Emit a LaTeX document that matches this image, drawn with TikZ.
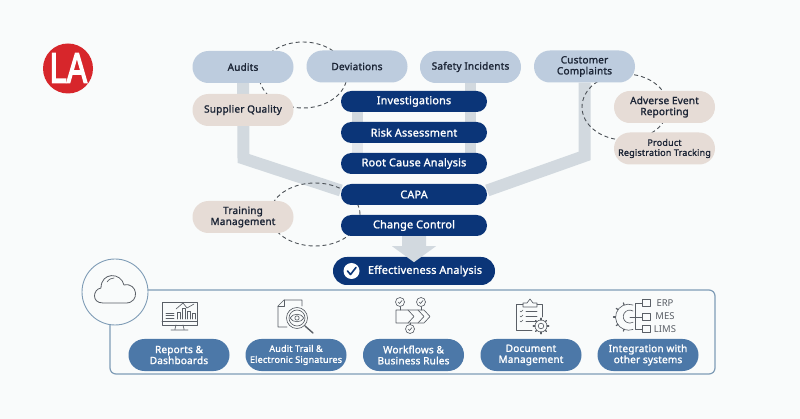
\documentclass[tikz,border=0pt]{standalone}
\usepackage{fontspec}
\setmainfont{Noto Sans}
\newfontfamily\heavyfont{Noto Sans}[FakeBold=1.6, LetterSpace=2]
\newfontfamily\logofont{Liberation Sans}[FakeBold=4]
\usetikzlibrary{backgrounds}

\definecolor{pagebg}{HTML}{F9FBFB}
\definecolor{navybox}{HTML}{0B3578}
\definecolor{steelbox}{HTML}{4C78A8}
\definecolor{paleblue}{HTML}{BDCCDE}
\definecolor{palesand}{HTML}{E6DCD6}
\definecolor{barfill}{HTML}{D2D9DF}
\definecolor{inkdark}{HTML}{1C2536}
\definecolor{iconink}{HTML}{5A5F66}
\definecolor{panelline}{HTML}{7F9CB6}
\definecolor{logored}{HTML}{D7262B}

\tikzset{
    pill/.style={rectangle, rounded corners=15.9pt, minimum width=101pt, minimum height=32pt,
        inner sep=0pt, align=center, text=inkdark,
        font=\heavyfont\fontsize{10}{11}\selectfont},
    source/.style={pill, fill=paleblue},
    extra/.style={pill, fill=palesand},
    stepbar/.style={rectangle, rounded corners=10.4pt, minimum width=146pt, minimum height=21pt,
        inner sep=0pt, fill=navybox, text=white, font=\heavyfont\fontsize{10.8}{12}\selectfont},
    feature/.style={pill, fill=steelbox, text=white},
    flowbar/.style={draw=barfill, line width=12pt, line join=miter},
    loopline/.style={draw=iconink!85!black, line width=0.9pt, dash pattern=on 4pt off 3pt},
    iconline/.style={draw=iconink, line width=0.65pt, line join=round, line cap=round},
}

\begin{document}
\begin{tikzpicture}[x=1pt, y=-1pt]
    \useasboundingbox (0,0) rectangle (800,419);

    % top row
    \node[source] (audits) at (243,67) {Audits};
    \node[source] (deviations) at (357,66.5) {Deviations};
    \node[source] (safety) at (470.5,67) {Safety Incidents};
    \node[source] (complaints) at (584.5,66.5) {Customer\\Complaints};

    % side boxes
    \node[extra] (supplier) at (243,110) {Supplier Quality};
    \node[extra] (adverse) at (664.5,107) {Adverse Event\\Reporting};
    \node[extra, font=\heavyfont\fontsize{9}{10}\selectfont] (product) at (664.5,148.5) {Product\\Registration Tracking};
    \node[extra] (training) at (243,217) {Training\\Management};

    % process stack
    \node[stepbar] (investigations) at (414,101.5) {Investigations};
    \node[stepbar] (risk) at (414,132.5) {Risk Assessment};
    \node[stepbar] (rootcause) at (414,163.5) {Root Cause Analysis};
    \node[stepbar] (capa) at (414,194.5) {CAPA};
    \node[stepbar] (change) at (414,225.5) {Change Control};
    \node[stepbar, minimum width=162pt, minimum height=28pt, rounded corners=13.9pt,
        font=\heavyfont\fontsize{10.8}{13}\selectfont] (effect) at (414,271) {\hspace*{22pt}Effectiveness Analysis};
    \node[circle, fill=white, minimum size=16pt, inner sep=0pt] (checkmark) at (351.5,271) {};
    \draw[navybox, line width=1.6pt, line cap=round, line join=round]
        (347.5,271) -- (350.5,274.5) -- (356,267.5);

    % big arrow
    \fill[barfill] ([xshift=-12pt]change.south) -- ([xshift=-12pt,yshift=-10pt]change.south)
        -- ([xshift=-22pt,yshift=-10pt]change.south) -- ([yshift=-26pt]change.south)
        -- ([xshift=22pt,yshift=-10pt]change.south) -- ([xshift=12pt,yshift=-10pt]change.south)
        -- ([xshift=12pt]change.south) -- cycle;

    % platform panel
    \node[draw=panelline, line width=1.2pt, rounded corners=6pt, minimum width=605pt, minimum height=84pt,
        inner sep=0pt] (panel) at (412.5,332) {};
    \node[circle, draw=panelline, line width=0.9pt, fill=pagebg, minimum size=66pt, inner sep=0pt] (cloudring) at (115,292) {};
    \draw[iconline, line width=0.8pt] (103,303) .. controls (91,303) and (93,289) .. (101,288)
        .. controls (101,272) and (121,272) .. (124,285)
        .. controls (138,282) and (140,303) .. (126,303) -- cycle;
    \draw[iconline] (107,282) .. controls (109,279) and (112,278) .. (114,278);

    \node[feature] (reports) at (179,355) {Reports \&\\Dashboards};
    \node[feature, font=\heavyfont\fontsize{9}{11}\selectfont] (audittrail) at (296,355) {Audit Trail \&\\Electronic Signatures};
    \node[feature] (workflows) at (413.5,355) {Workflows \&\\Business Rules};
    \node[feature] (documents) at (531,355) {Document\\Management};
    \node[feature] (integration) at (648,355) {Integration with\\other systems};

    % logo
    \node[circle, fill=logored, minimum size=50pt, inner sep=0pt] (logo) at (68,68.5) {};
    \node[xscale=0.72, text=white, inner sep=0pt, font=\logofont\fontsize{42}{42}\selectfont] (logotext) at (68.5,68) {LA};

    % icon: dashboard
    \draw[iconline] (162,302) rectangle (197,325);
    \draw[iconline] (162,321) -- (197,321);
    \draw[iconline] (176,325) -- (175,329) (183,325) -- (184,329) (171,330) -- (188,330);
    \draw[iconline] (166,313) -- (174,313) (166,315.5) -- (174,315.5) (166,318) -- (174,318);
    \foreach \bx/\by in {177/312, 182/308, 187/311, 192/313}
        \draw[iconline] (\bx,319) -- (\bx,\by) -- (\bx+3,\by) -- (\bx+3,319);
    \draw[iconline] (176,309) -- (183,303) -- (187,308) -- (194,304);

    % icon: audit trail
    \draw[iconline] (302,306) -- (302,300) -- (284,300) -- (278,306) -- (278,327) -- (287,327);
    \draw[iconline] (284,300) -- (284,306) -- (278,306);
    \draw[iconline, fill=pagebg] (297,318) circle (10.5);
    \draw[iconline] (297,318) circle (8);
    \draw[iconline] (290,318) .. controls (293,313) and (301,313) .. (304,318)
        .. controls (301,323) and (293,323) .. (290,318) -- cycle;
    \draw[iconline] (297,318) circle (2.2);
    \draw[iconline, line width=1.4pt] (305,326) -- (313,333);

    % icon: workflows
    \foreach \cx/\cy in {400/302, 421/302, 410/329} {
        \draw[iconline] (\cx,\cy) circle (4.5);
        \draw[iconline] (\cx-2,\cy) -- (\cx-0.5,\cy+1.5) -- (\cx+2,\cy-1.5);
    }
    \draw[iconline] (400,307) -- (400,310) (421,307) -- (421,310) (410,323) -- (410,324.5);
    \draw[iconline] (396,310) -- (408,310) -- (414,316.5) -- (408,323) -- (396,323) -- cycle;
    \draw[iconline] (408,310) -- (418,310) -- (424,316.5) -- (418,323) -- (408,323);
    \draw[iconline] (418,310) -- (424,310) -- (430,316.5) -- (424,323) -- (418,323);

    % icon: document management
    \draw[iconline] (523,304) -- (516,304) -- (516,330) -- (532,330);
    \draw[iconline] (537,304) -- (542,304) -- (542,317);
    \draw[iconline] (523,307) -- (523,303) -- (527,303) -- (530,299) -- (533,303) -- (537,303) -- (537,307) -- cycle;
    \foreach \ly in {311,316,321} {
        \draw[iconline] (520,\ly) -- (521,\ly+1) -- (523,\ly-1);
        \draw[iconline] (526,\ly) -- (537,\ly);
    }
    \draw[iconline, fill=pagebg] (541,326) circle (6);
    \foreach \ga in {0,45,...,315}
        \draw[iconline, line width=1.3pt] (541,326) ++(\ga:6) -- ++(\ga:1.8);
    \draw[iconline] (541,326) circle (2.8);

    % icon: integration
    \draw[iconline] (633,305) arc[start angle=-70, end angle=-290, radius=13];
    \foreach \ga in {110,145,180,215,250}
        \draw[iconline, line width=1.2pt] (628.5,317) ++(\ga:13) -- ++(\ga:2);
    \draw[iconline] (633,311) arc[start angle=-60, end angle=-300, radius=6.5];
    \draw[iconline] (642,303) -- (635,303) -- (635,329) -- (642,329);
    \draw[iconline] (630,317) -- (642,317);
    \foreach \sy in {303,317,329}
        \draw[iconline] (642,\sy-3.5) rectangle (650,\sy+3.5);
    \node[text=iconink, inner sep=0pt, font=\fontsize{9.5}{11}\selectfont] (erp) at (665,303) {ERP};
    \node[text=iconink, inner sep=0pt, font=\fontsize{9.5}{11}\selectfont] (mes) at (665,316) {MES};
    \node[text=iconink, inner sep=0pt, font=\fontsize{9.5}{11}\selectfont] (lims) at (665,329) {LIMS};

    \begin{scope}[on background layer]
        \fill[pagebg] (0,0) rectangle (800,419);

        % grey flow bars
        \coordinate (auditbend) at (243.5,158.5);
        \coordinate (complaintbend) at (584.5,156);
        \draw[flowbar] (audits.south) -- (auditbend) -- ([yshift=4pt]capa.west);
        \draw[flowbar] (complaints.south) -- (complaintbend) -- ([yshift=4pt]capa.east);
        \draw[flowbar, line width=11pt] (safety.south) -- (safety.south |- rootcause.north);
        \draw[flowbar, line width=11pt] ([xshift=-57pt]investigations.south) -- ([xshift=-57pt]risk.north);
        \draw[flowbar, line width=11pt, draw=barfill!55!pagebg] ([xshift=-57pt]risk.south) -- ([xshift=-57pt]rootcause.north);

        % dashed loops
        \draw[loopline] (303,75) ellipse [x radius=44, y radius=33];
        \draw[loopline] (315,214.5) ellipse [x radius=45, y radius=31.5];
        \draw[loopline] (625,107) ellipse [x radius=43, y radius=33];
    \end{scope}
\end{tikzpicture}
\end{document}
